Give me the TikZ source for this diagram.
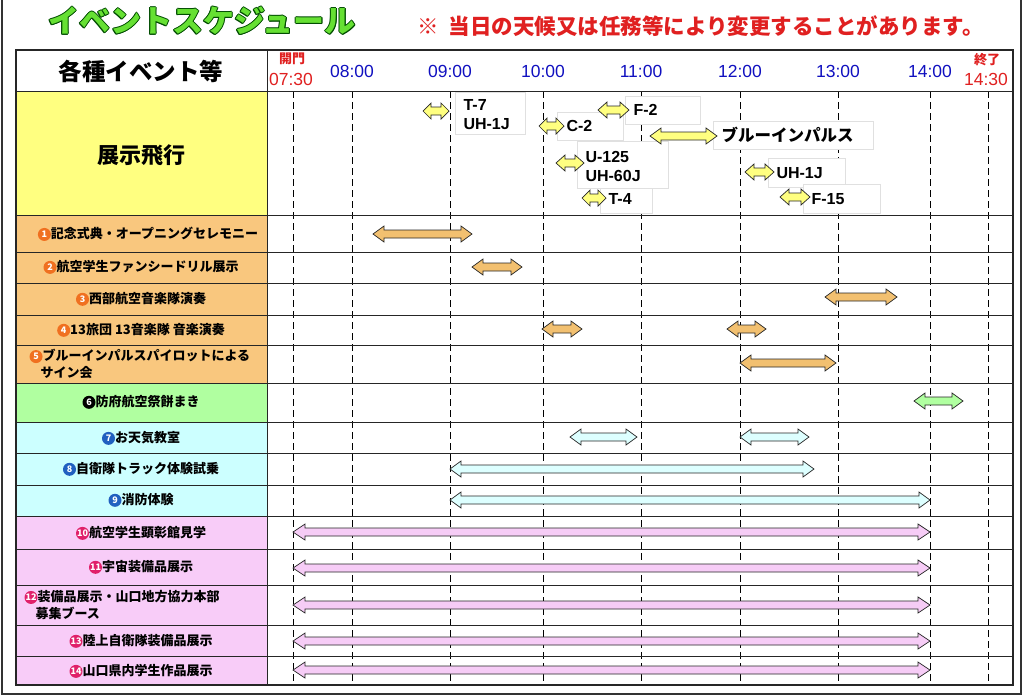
\documentclass[tikz,border=0pt]{standalone}
\usepackage{fontspec}
\setmainfont{Noto Sans CJK JP}
\newfontfamily\lat{Liberation Sans}
\definecolor{ylw}{HTML}{FFFF80}
\definecolor{org}{HTML}{F9C77E}
\definecolor{orga}{HTML}{F2C070}
\definecolor{grn}{HTML}{B0FFA0}
\definecolor{cyn}{HTML}{CCFFFF}
\definecolor{cyna}{HTML}{DDFFFF}
\definecolor{pnk}{HTML}{F8CCF8}
\definecolor{pnka}{HTML}{F6CCF6}
\definecolor{tgreen}{HTML}{66E033}
\definecolor{tblue}{HTML}{1010C0}
\definecolor{tred}{HTML}{E02020}
\definecolor{corg}{HTML}{F07020}
\definecolor{cblu}{HTML}{2060C0}
\definecolor{cred}{HTML}{E0206A}
\newcommand\barr[5]{\filldraw[fill=#4,draw=black!85,line width=0.7pt] (#1,#3) -- ({#1+#5},{#3-8}) -- ({#1+#5},{#3-4}) -- ({#2-#5},{#3-4}) -- ({#2-#5},{#3-8}) -- (#2,#3) -- ({#2-#5},{#3+8}) -- ({#2-#5},{#3+4}) -- ({#1+#5},{#3+4}) -- ({#1+#5},{#3+8}) -- cycle;}
\newcommand\cnum[2]{\tikz[baseline=-4pt]\node[circle,fill=#1,inner sep=0pt,minimum size=13pt,text=white,font=\fontsize{9}{9}\selectfont\bfseries]{#2};}
\tikzset{lab/.style={font=\fontsize{13}{17}\selectfont\bfseries},
 fbox/.style={fill=white,draw=black!12,line width=0.6pt},
 ftxt/.style={font=\lat\fontsize{16}{19}\selectfont\bfseries,anchor=west,align=left},
 tm/.style={font=\lat\fontsize{17.5}{17}\selectfont,text=tblue}}
\begin{document}
\begin{tikzpicture}[x=1pt,y=-1pt]
\useasboundingbox (0,0) rectangle (1024,697);
\fill[white] (0,0) rectangle (1024,697);
\draw[line width=1.2pt,black!80] (2,0) -- (2,694) -- (1021,694) -- (1021,0);
\foreach \dx/\dy in {-1/0,1/0,0/-1,0/1,-0.8/-0.8,0.8/0.8,-0.8/0.8,0.8/-0.8}
 \node[font=\fontsize{31}{31}\selectfont\bfseries,text=black!70!green] at ({202+\dx},{21+\dy}) {イベントスケジュール};
\node (title) [font=\fontsize{31}{31}\selectfont\bfseries,text=tgreen] at (202,21) {イベントスケジュール};
\node (note) [font=\fontsize{21.5}{22}\selectfont\bfseries,text=tred,anchor=west] at (414,26) {※\ \ 当日の天候又は任務等により変更することがあります。};
\fill[ylw] (16,91) rectangle (267,215);
\fill[org] (16,215) rectangle (267,383);
\fill[grn] (16,383) rectangle (267,422);
\fill[cyn] (16,422) rectangle (267,516);
\fill[pnk] (16,516) rectangle (267,685);
\foreach \x in {293,352,450,543,641,740,838,930,988}
 \draw[line width=1pt,dash pattern=on 7pt off 4pt] (\x,91) -- (\x,685);
\foreach \y in {91,215,252,283,315,345,383,422,453,485,516,549,585,625,656}
 \draw[line width=1pt,black!85] (16,\y) -- (1013,\y);
\draw[line width=1.2pt,black!85] (16,50) rectangle (1013,685);
\draw[line width=1pt,black!85] (267,50) -- (267,685);
\node (hdr) [font=\fontsize{23.5}{23}\selectfont\bfseries] at (141,71) {各種イベント等};
\node (open) [font=\fontsize{13}{13}\selectfont\bfseries,text=tred] at (292,59) {開門};
\node (t0730) [tm,text=tred] at (291,79) {07:30};
\node (t08) [tm] at (352,71) {08:00};
\node (t09) [tm] at (450,71) {09:00};
\node (t10) [tm] at (543,71) {10:00};
\node (t11) [tm] at (641,71) {11:00};
\node (t12) [tm] at (740,71) {12:00};
\node (t13) [tm] at (838,71) {13:00};
\node (t14) [tm] at (930,71) {14:00};
\node (close) [font=\fontsize{13}{13}\selectfont\bfseries,text=tred] at (987,60) {終了};
\node (t1430) [tm,text=tred] at (986,79) {14:30};
\node (r0) [font=\fontsize{22}{22}\selectfont\bfseries] at (141,155) {展示飛行};
\node (r1) [lab] at (148,234) {\cnum{corg}{1}記念式典・オープニングセレモニー};
\node (r2) [lab] at (141,267) {\cnum{corg}{2}航空学生ファンシードリル展示};
\node (r3) [lab] at (141,299) {\cnum{corg}{3}西部航空音楽隊演奏};
\node (r4) [lab] at (141,330) {\cnum{corg}{4}13旅団 13音楽隊 音楽演奏};
\node (r5) [lab,anchor=west,align=left] at (26,364) {\cnum{corg}{5}ブルーインパルスパイロットによる\\\ \ \ \,サイン会};
\node (r6) [lab] at (141,402) {\cnum{black}{6}防府航空祭餅まき};
\node (r7) [lab] at (141,438) {\cnum{cblu}{7}お天気教室};
\node (r8) [lab] at (141,469) {\cnum{cblu}{8}自衛隊トラック体験試乗};
\node (r9) [lab] at (141,500) {\cnum{cblu}{9}消防体験};
\node (r10) [lab] at (141,533) {\cnum{cred}{10}航空学生顕彰館見学};
\node (r11) [lab] at (141,567) {\cnum{cred}{11}宇宙装備品展示};
\node (r12) [lab,anchor=west,align=left] at (21,605) {\cnum{cred}{12}装備品展示・山口地方協力本部\\\ \ \ \,募集ブース};
\node (r13) [lab] at (141,641) {\cnum{cred}{13}陸上自衛隊装備品展示};
\node (r14) [lab] at (141,671) {\cnum{cred}{14}山口県内学生作品展示};
\draw[fbox] (455,92) rectangle (525,134);
\node (f1) [ftxt] at (460,115) {T-7\\UH-1J};
\draw[fbox] (557,112) rectangle (623,140);
\node (f2) [ftxt] at (563,126) {C-2};
\draw[fbox] (625,96) rectangle (700,124);
\node (f3) [ftxt] at (630,110) {F-2};
\draw[fbox] (713,121) rectangle (873,149);
\node (f4) [ftxt,font=\fontsize{16.5}{16}\selectfont\bfseries] at (718,135) {ブルーインパルス};
\draw[fbox] (577,141) rectangle (668,188);
\node (f5) [ftxt] at (582,166) {U-125\\UH-60J};
\draw[fbox] (600,188) rectangle (652,213);
\node (f6) [ftxt] at (605,199) {T-4};
\draw[fbox] (768,158) rectangle (845,187);
\node (f7) [ftxt] at (773,173) {UH-1J};
\draw[fbox] (803,184) rectangle (880,213);
\node (f8) [ftxt] at (808,199) {F-15};
\barr{423}{449}{111}{ylw}{8}
\barr{539}{564}{126}{ylw}{8}
\barr{598}{629}{110}{ylw}{9}
\barr{650}{717}{136}{ylw}{11}
\barr{556}{584}{163}{ylw}{9}
\barr{582}{606}{198}{ylw}{8}
\barr{745}{774}{172}{ylw}{9}
\barr{780}{810}{197}{ylw}{9}
\barr{373}{472}{234}{orga}{11}
\barr{472}{522}{267}{orga}{11}
\barr{825}{897}{297}{orga}{11}
\barr{542}{582}{329}{orga}{11}
\barr{727}{766}{329}{orga}{11}
\barr{740}{836}{363}{orga}{11}
\barr{914}{963}{401}{grn}{11}
\barr{570}{637}{437}{cyna}{11}
\barr{740}{809}{437}{cyna}{11}
\barr{450}{814}{469}{cyna}{11}
\barr{450}{930}{500}{cyna}{11}
\foreach \y in {532,568,605,641,670} {\barr{293}{930}{\y}{pnka}{12}}
\end{tikzpicture}
\end{document}
